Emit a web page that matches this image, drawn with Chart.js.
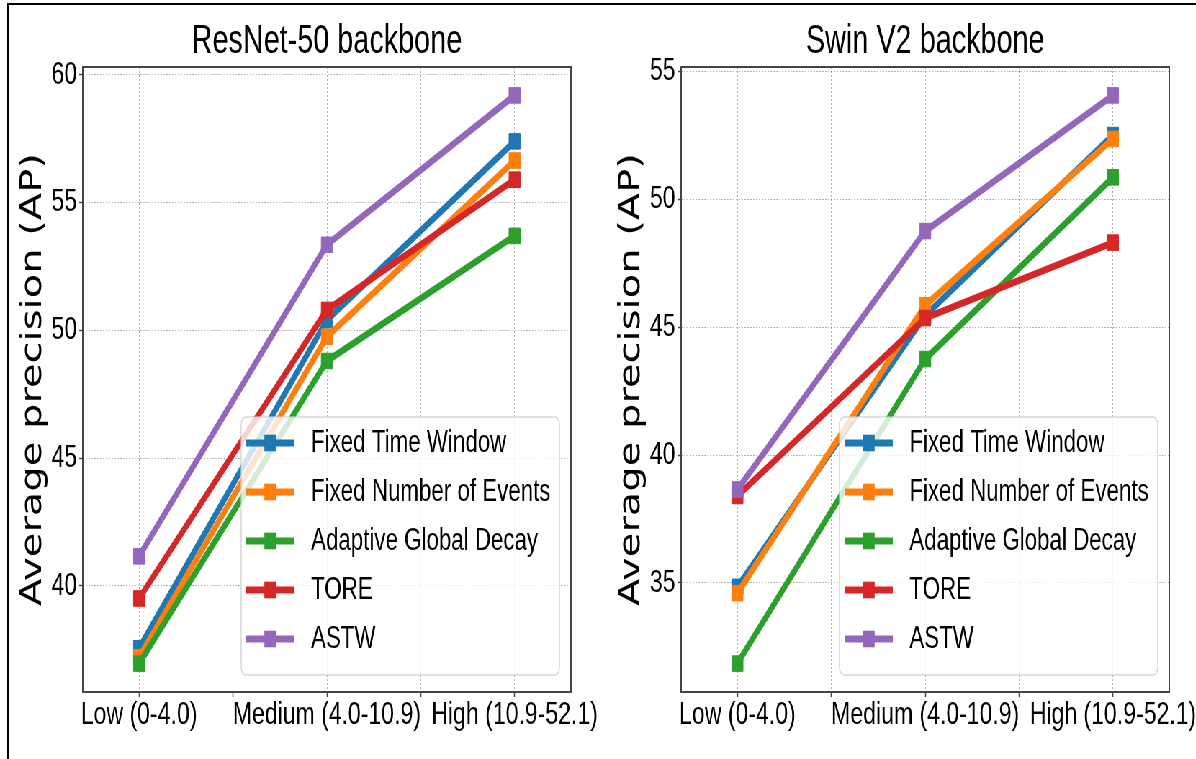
<!DOCTYPE html>
<html>
<head>
<meta charset="utf-8">
<title>Average precision by event density</title>
<script src="https://cdn.jsdelivr.net/npm/chart.js@4/dist/chart.umd.min.js"></script>
<style>
  html, body { margin: 0; padding: 0; background: #fff; }
  #figure { position: relative; width: 1196px; height: 759px; overflow: hidden; background: #fff; }
  #frame { position: absolute; left: 7px; top: 3px; right: -10px; bottom: -10px; border-left: 2px solid #000; border-top: 2px solid #000; }
  /* the original figure was squeezed horizontally, so draw wide and compress */
  #squeeze { position: absolute; left: 0; top: 0; width: 1661px; height: 759px; transform: scaleX(0.72); transform-origin: 0 0; }
  #squeeze canvas { position: absolute; top: 0; }
</style>
</head>
<body>
<div id="figure">
  <div id="squeeze">
    <canvas id="resnetChart" width="920" height="759" style="left:0"></canvas>
    <canvas id="swinChart" width="830" height="759" style="left:830.5px"></canvas>
  </div>
  <div id="frame"></div>
</div>
<script>
const categories = ['Low (0-4.0)', 'Medium (4.0-10.9)', 'High (10.9-52.1)'];
const categoryPositions = [0, 1, 2];
const xTickPositions = [0, 0.5, 1, 1.5, 2];
const methods = ['Fixed Time Window', 'Fixed Number of Events', 'Adaptive Global Decay', 'TORE', 'ASTW'];
const methodColors = ['#1f77b4', '#ff7f0e', '#2ca02c', '#d62728', '#9467bd'];

// ResNet-50 backbone
const resnetFixedTime = [37.55, 50.4, 57.4];
const resnetFixedEvents = [37.2, 49.75, 56.65];
const resnetGlobalDecay = [36.95, 48.8, 53.7];
const resnetTore = [39.5, 50.8, 55.9];
const resnetAstw = [41.15, 53.35, 59.2];
const resnetYTicks = [40, 45, 50, 55, 60];

// Swin V2 backbone
const swinFixedTime = [34.85, 45.45, 52.5];
const swinFixedEvents = [34.6, 45.85, 52.35];
const swinGlobalDecay = [31.85, 43.75, 50.85];
const swinTore = [38.4, 45.35, 48.3];
const swinAstw = [38.65, 48.75, 54.05];
const swinYTicks = [35, 40, 45, 50, 55];

const fontFamily = '"Liberation Sans", Arial, Helvetica, sans-serif';
Chart.defaults.font.family = fontFamily;
Chart.defaults.color = '#000';

function roundedRect(ctx, x, y, w, h, r) {
    ctx.beginPath();
    ctx.moveTo(x + r, y);
    ctx.arcTo(x + w, y, x + w, y + h, r);
    ctx.arcTo(x + w, y + h, x, y + h, r);
    ctx.arcTo(x, y + h, x, y, r);
    ctx.arcTo(x, y, x + w, y, r);
    ctx.closePath();
}

// Rahmen um die Plotfläche
const axesFrame = {
    id: 'axesFrame',
    afterDatasetsDraw(chart) {
        const { ctx, chartArea: a } = chart;
        ctx.save();
        ctx.strokeStyle = '#444';
        ctx.lineWidth = 2;
        ctx.strokeRect(a.left, a.top, a.right - a.left, a.bottom - a.top);
        ctx.restore();
    }
};

// Legende unten rechts, halbtransparent wie in matplotlib
const boxLegend = {
    id: 'boxLegend',
    afterDatasetsDraw(chart) {
        const { ctx, chartArea } = chart;
        const w = 442, h = 258;
        const left = chartArea.right - 16 - w;
        const top = chartArea.bottom - 17 - h;
        ctx.save();
        roundedRect(ctx, left, top, w, h, 7);
        ctx.fillStyle = 'rgba(255,255,255,0.8)';
        ctx.fill();
        ctx.strokeStyle = 'rgba(204,204,204,0.8)';
        ctx.lineWidth = 1.5;
        ctx.stroke();
        chart.data.datasets.forEach((ds, i) => {
            const y = top + 26 + i * 49;
            ctx.strokeStyle = ds.borderColor;
            ctx.lineWidth = 7;
            ctx.beginPath();
            ctx.moveTo(left + 7, y);
            ctx.lineTo(left + 74, y);
            ctx.stroke();
            ctx.fillStyle = ds.borderColor;
            ctx.fillRect(left + 40.5 - 8.3, y - 8.3, 16.6, 16.6);
            ctx.fillStyle = '#000';
            ctx.font = '31px ' + fontFamily;
            ctx.textBaseline = 'middle';
            ctx.fillText(ds.label, left + 97, y);
        });
        ctx.restore();
    }
};

function createPanel(canvasId, title, series, yTicks, rightPad) {
    const all = series.flat();
    const lo = Math.min(...all);
    const hi = Math.max(...all);
    const margin = (hi - lo) * 0.05;

    const ctx = document.getElementById(canvasId).getContext('2d');
    return new Chart(ctx, {
        type: 'line',
        data: {
            datasets: series.map((values, i) => ({
                label: methods[i],
                data: values.map((v, j) => ({ x: categoryPositions[j], y: v })),
                borderColor: methodColors[i],
                backgroundColor: methodColors[i],
                pointBackgroundColor: methodColors[i],
                pointBorderColor: methodColors[i],
                borderWidth: 7,
                borderJoinStyle: 'round',
                pointStyle: 'rect',
                pointRadius: 11,
                pointBorderWidth: 1,
                tension: 0,
                fill: false,
                order: series.length - i
            }))
        },
        options: {
            responsive: false,
            animation: false,
            events: [],
            layout: { padding: { left: 0, right: rightPad, top: 0, bottom: 0 } },
            plugins: {
                legend: { display: false },
                tooltip: { enabled: false },
                title: {
                    display: true,
                    text: title,
                    fullSize: false,
                    color: '#000',
                    font: { size: 40, weight: 'normal' },
                    padding: { top: 18, bottom: 1 }
                }
            },
            scales: {
                x: {
                    type: 'linear',
                    min: -0.3,
                    max: 2.3,
                    afterBuildTicks: scale => {
                        scale.ticks = xTickPositions.map(v => ({ value: v }));
                    },
                    afterFit: scale => {
                        scale.height = 67;
                        scale.paddingLeft = 0;
                        scale.paddingRight = 0;
                    },
                    ticks: {
                        autoSkip: false,
                        maxRotation: 0,
                        padding: -1,
                        color: '#000',
                        font: { size: 32 },
                        callback: value => {
                            const idx = categoryPositions.indexOf(value);
                            return idx >= 0 ? categories[idx] : '';
                        }
                    },
                    grid: { color: 'rgba(0,0,0,0.3)', lineWidth: 1, tickLength: 5, tickColor: '#444', tickWidth: 1.5 },
                    border: { display: false, dash: [2, 2] }
                },
                y: {
                    min: lo - margin,
                    max: hi + margin,
                    afterBuildTicks: scale => {
                        scale.ticks = yTicks.map(v => ({ value: v }));
                    },
                    afterFit: scale => {
                        scale.width = 115;
                        scale.paddingTop = 0;
                        scale.paddingBottom = 0;
                    },
                    ticks: { padding: 3, color: '#000', font: { size: 32 } },
                    title: {
                        display: true,
                        text: 'Average precision (AP)',
                        color: '#000',
                        font: { family: '"DejaVu Sans", sans-serif', size: 40 },
                        padding: { top: 23, bottom: 0 }
                    },
                    grid: { color: 'rgba(0,0,0,0.3)', lineWidth: 1, tickLength: 5, tickColor: '#444', tickWidth: 1.5 },
                    border: { display: false, dash: [2, 2] }
                }
            }
        },
        plugins: [axesFrame, boxLegend]
    });
}

createPanel('resnetChart', 'ResNet-50 backbone',
    [resnetFixedTime, resnetFixedEvents, resnetGlobalDecay, resnetTore, resnetAstw], resnetYTicks, 127);
createPanel('swinChart', 'Swin V2 backbone',
    [swinFixedTime, swinFixedEvents, swinGlobalDecay, swinTore, swinAstw], swinYTicks, 37);
</script>
</body>
</html>
